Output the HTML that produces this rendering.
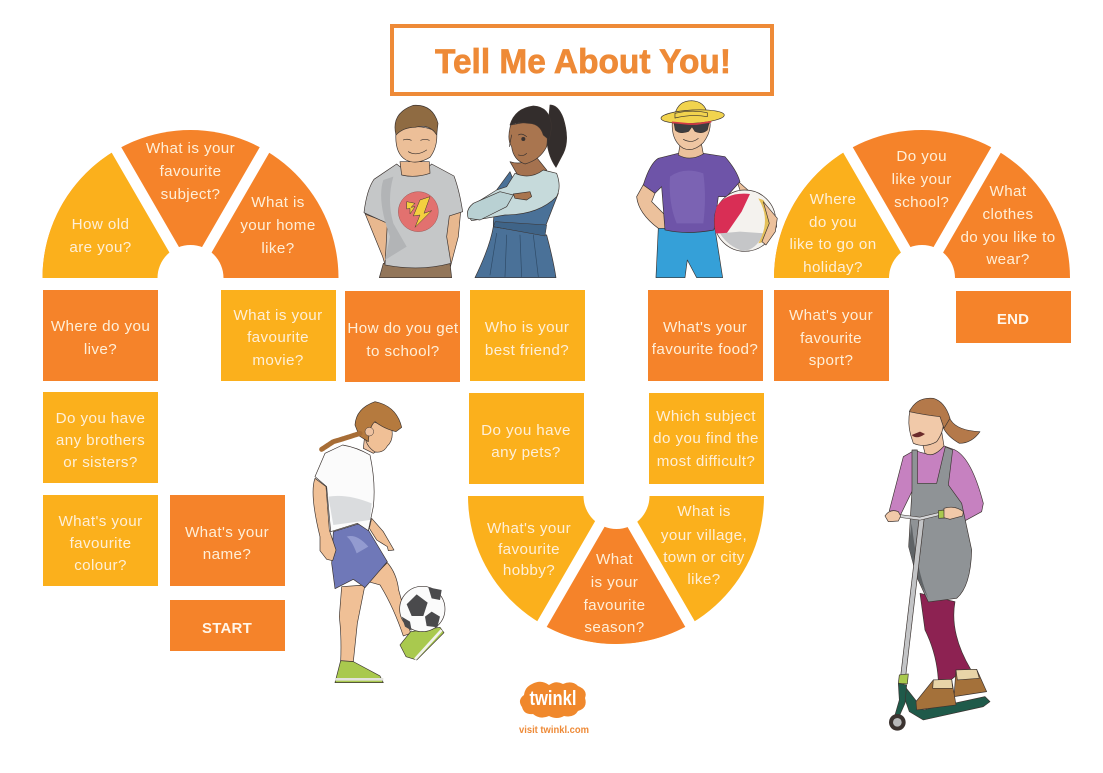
<!DOCTYPE html>
<html><head><meta charset="utf-8"><title>Tell Me About You!</title>
<style>
html,body{margin:0;padding:0;background:#fff;width:1103px;height:773px;overflow:hidden}
svg{display:block}
.t text{font-family:"Liberation Sans",sans-serif;font-size:15.2px;letter-spacing:.4px;fill:#feefd8;text-anchor:middle}
.t text.b{font-weight:bold;fill:#fff6ea;font-size:15px;letter-spacing:.2px}
.o{stroke:#3b3330;stroke-width:2;stroke-linejoin:round;stroke-linecap:round}
.l{fill:none;stroke:#3b3330;stroke-width:2;stroke-linecap:round}
</style></head><body>
<svg width="1103" height="773" viewBox="0 0 1103 773" xmlns="http://www.w3.org/2000/svg">
<rect width="1103" height="773" fill="#fff"/>
<!-- title -->
<rect x="392" y="26" width="380" height="68" fill="#fff" stroke="#ee8a37" stroke-width="4"/>
<text x="583" y="73" font-family="Liberation Sans,sans-serif" font-weight="bold" font-size="34" fill="#ee8a37" stroke="#ee8a37" stroke-width=".7" text-anchor="middle" textLength="296" lengthAdjust="spacingAndGlyphs">Tell Me About You!</text>

<!-- left fan -->
<path d="M42.5,278A148,148 0 0 1 338.5,278Z" fill="#f5832a"/>
<path d="M190.5,278L42.5,278A148,148 0 0 1 116.5,149.8Z" fill="#fbb01c"/>
<path d="M190.5,278L109,137M190.5,278L272,137" stroke="#fff" stroke-width="11"/>
<circle cx="190.5" cy="278" r="33" fill="#fff"/>
<!-- right fan -->
<path d="M774,278A148,148 0 0 1 1070,278Z" fill="#f5832a"/>
<path d="M922,278L774,278A148,148 0 0 1 848,149.8Z" fill="#fbb01c"/>
<path d="M922,278L840.5,137M922,278L1003.5,137" stroke="#fff" stroke-width="11"/>
<circle cx="922" cy="278" r="33" fill="#fff"/>
<!-- bottom fan -->
<path d="M468,496A148,148 0 0 0 764,496Z" fill="#fbb01c"/>
<path d="M616,496L542,624.2A148,148 0 0 0 690,624.2Z" fill="#f5832a"/>
<path d="M616,496L534.5,637M616,496L697.5,637" stroke="#fff" stroke-width="11"/>
<circle cx="616.5" cy="496" r="33" fill="#fff"/>

<!-- boxes -->
<g fill="#f5832a">
<rect x="43" y="290" width="115" height="91"/>
<rect x="170" y="495" width="115" height="91"/>
<rect x="170" y="600" width="115" height="51"/>
<rect x="345" y="291" width="115" height="91"/>
<rect x="648" y="290" width="115" height="91"/>
<rect x="774" y="290" width="115" height="91"/>
<rect x="956" y="291" width="115" height="52"/>
</g>
<g fill="#fbb01c">
<rect x="43" y="392" width="115" height="91"/>
<rect x="43" y="495" width="115" height="91"/>
<rect x="221" y="290" width="115" height="91"/>
<rect x="470" y="290" width="115" height="91"/>
<rect x="469" y="393" width="115" height="91"/>
<rect x="649" y="393" width="115" height="91"/>
</g>

<!-- text -->
<g class="t">
<text x="100.5" y="229">How old</text><text x="100.5" y="252">are you?</text>
<text x="190.5" y="153">What is your</text><text x="190.5" y="176">favourite</text><text x="190.5" y="199">subject?</text>
<text x="278" y="207">What is</text><text x="278" y="230">your home</text><text x="278" y="253">like?</text>
<text x="833" y="204">Where</text><text x="833" y="227">do you</text><text x="833" y="249">like to go on</text><text x="833" y="272">holiday?</text>
<text x="921.7" y="161">Do you</text><text x="921.7" y="184">like your</text><text x="921.7" y="207">school?</text>
<text x="1008" y="196">What</text><text x="1008" y="219">clothes</text><text x="1008" y="242">do you like to</text><text x="1008" y="264">wear?</text>
<text x="100.5" y="331">Where do you</text><text x="100.5" y="354">live?</text>
<text x="100.5" y="423">Do you have</text><text x="100.5" y="445">any brothers</text><text x="100.5" y="467">or sisters?</text>
<text x="100.5" y="526">What's your</text><text x="100.5" y="548">favourite</text><text x="100.5" y="570">colour?</text>
<text x="227" y="537">What's your</text><text x="227" y="559">name?</text>
<text class="b" x="227" y="633">START</text>
<text x="278" y="320">What is your</text><text x="278" y="342">favourite</text><text x="278" y="365">movie?</text>
<text x="403" y="333">How do you get</text><text x="403" y="356">to school?</text>
<text x="527" y="332">Who is your</text><text x="527" y="355">best friend?</text>
<text x="526" y="435">Do you have</text><text x="526" y="457">any pets?</text>
<text x="705" y="332">What's your</text><text x="705" y="354">favourite food?</text>
<text x="706" y="421">Which subject</text><text x="706" y="443">do you find the</text><text x="706" y="466">most difficult?</text>
<text x="831" y="320">What's your</text><text x="831" y="343">favourite</text><text x="831" y="365">sport?</text>
<text class="b" x="1013" y="324">END</text>
<text x="529" y="533">What's your</text><text x="529" y="554">favourite</text><text x="529" y="575">hobby?</text>
<text x="614.5" y="564">What</text><text x="614.5" y="587">is your</text><text x="614.5" y="610">favourite</text><text x="614.5" y="632">season?</text>
<text x="704" y="516">What is</text><text x="704" y="540">your village,</text><text x="704" y="562">town or city</text><text x="704" y="584">like?</text>
</g>

<!-- top characters: coordinates are 3x zoom space -->
<g transform="translate(350,90) scale(.3333)">
<!-- boy 1 -->
<path class="o" d="M52,375L45,370L98,500L110,540L135,535L118,400Z" fill="#e8b88f"/>
<path class="o" d="M296,370L332,365L325,440L300,535L270,530L286,430Z" fill="#e8b88f"/>
<path class="o" d="M88,563L100,520L300,520L305,563Z" fill="#93765a"/>
<path class="o" d="M140,222Q195,270 245,222L312,258Q328,300 338,365L298,378L290,440L303,520Q210,545 105,525L112,400L42,368Q50,300 72,268Z" fill="#c5c7c8"/>
<path d="M100,270Q80,330 120,440L105,510L170,470L130,400Q110,330 130,260Z" fill="#b2b4b6"/>
<path class="o" d="M150,215L155,255Q195,265 240,250L238,215Z" fill="#e8b88f"/>
<path class="o" d="M138,125Q133,190 168,210Q200,226 240,202Q264,170 260,125Q200,95 138,125Z" fill="#ecbf98"/>
<path class="o" d="M138,135Q122,70 190,46Q248,42 264,100L260,135Q240,100 195,112Q160,112 138,135Z" fill="#8f6b42"/>
<path class="l" d="M160,150Q172,145 184,151M212,151Q225,145 238,151M175,185Q200,200 230,180"/>
<circle cx="205" cy="365" r="60" fill="#e2716f" stroke="#9c5553" stroke-width="1.5"/>
<path d="M210,330L240,320L222,370L245,362L195,412L210,375L190,378Z" fill="#f3cf3f" stroke="#3b3330" stroke-width="1.5"/>
<path d="M170,335L195,340L183,352L195,350L180,372L180,355L170,357Z" fill="#f3cf3f" stroke="#3b3330" stroke-width="1.5"/>

<!-- girl -->
<path class="o" d="M600,45Q625,45 640,85Q660,150 640,190L618,232Q595,200 590,150Z" fill="#332d2c"/>
<path class="o" d="M500,250L480,215Q525,230 550,190L590,240L545,290Z" fill="#a5724f"/>
<path class="o" d="M482,105Q470,150 485,170Q490,210 525,222Q570,210 590,170Q600,110 560,90Z" fill="#a9754f"/>
<path class="o" d="M480,105Q495,55 550,48Q600,50 605,110L598,150L580,135Q570,100 535,100Q505,95 480,105Z" fill="#332d2c"/>
<path class="l" d="M505,135Q515,128 530,140M485,135L478,170M505,195Q520,200 530,190"/>
<circle cx="520" cy="147" r="6" fill="#3b3330"/>
<path class="o" d="M375,563Q420,470 430,410L590,435Q610,510 618,563Z" fill="#4a7198"/>
<path class="o" d="M430,395L440,300L480,245L500,295L540,290L590,245L625,310L588,405L585,435L430,410Z" fill="#4a7198"/>
<path class="o" d="M470,290L495,250Q540,270 580,240L620,250Q635,290 620,320Q565,375 465,375L365,392Q345,370 360,350L440,300Z" fill="#c6dadb"/>
<path class="o" d="M355,385Q345,360 370,340L450,305L490,315L470,350L390,390Z" fill="#b9d1d3"/>
<path class="o" d="M490,312L540,305L545,320L530,330L495,325Z" fill="#a9754f"/>
<path d="M430,410L436,395L590,405L585,438Z" fill="#3f6488" stroke="#3b3330" stroke-width="1.5"/>
<path class="l" d="M440,430L420,555M470,435L465,560M510,435L515,560M550,435L565,560" stroke-width="1.3" style="stroke:#2e4a66"/>

<!-- boy 3 -->
<path class="o" d="M1160,270L1205,310L1275,375L1280,410L1250,460L1225,455L1240,400L1180,330Z" fill="#ecc19c"/>
<path class="o" d="M885,275L860,320Q865,370 925,415L960,420L965,385L945,375L905,335L915,310Z" fill="#ecc19c"/>
<path class="o" d="M918,563L925,415L1095,415L1118,563L1040,563L1012,510L1005,563Z" fill="#35a0d8"/>
<path class="o" d="M985,190Q1030,205 1060,190L1125,200Q1160,240 1170,275L1130,320L1105,320L1092,420Q1010,435 945,420L935,290L915,310L880,285Q900,220 925,205Z" fill="#6e54a8"/>
<path d="M960,260Q1000,230 1060,250Q1070,320 1060,400L980,400Q955,340 960,260Z" fill="#8069b8" opacity=".7"/>
<path class="o" d="M990,165L985,195Q1020,215 1060,192L1052,150Z" fill="#ecc19c"/>
<path class="o" d="M968,85Q960,150 1000,175Q1030,188 1060,158Q1088,120 1078,85Z" fill="#efc6a2"/>
<path d="M968,100L1080,100L1076,88L970,84Z" fill="#6b4d2e"/>
<path class="o" d="M975,72Q985,32 1025,32Q1065,34 1072,72Z" fill="#f1d34e"/>
<ellipse cx="1028" cy="80" rx="95" ry="20" transform="rotate(-3 1028 80)" fill="#f1d34e" stroke="#3b3330" stroke-width="2"/>
<path class="o" d="M975,70Q1025,58 1072,68L1072,80Q1025,72 975,84Z" fill="#f1d34e"/>
<path class="o" d="M972,98L1018,102L1040,102L1078,96L1072,120Q1055,134 1035,124L1026,110L1016,124Q990,134 976,120Z" fill="#3d3d40"/>
<path d="M966,97L1018,102L1040,102L1084,95" fill="none" stroke="#d23b45" stroke-width="5"/>
<path class="l" d="M1000,148Q1025,162 1045,145"/>
<circle cx="1185" cy="392" r="92" fill="#f4f2ee" stroke="#3b3330" stroke-width="2"/>
<path d="M1100,350Q1130,305 1200,312L1175,365L1130,430L1097,430Q1088,390 1100,350Z" fill="#d92e55"/>
<path d="M1110,430L1170,425L1240,430Q1220,480 1180,483Q1135,470 1110,430Z" fill="#c5c6c8"/>
<path d="M1225,325Q1265,390 1225,460L1245,455Q1280,390 1240,330Z" fill="#e4c05a"/>
<path class="o" d="M1240,335L1282,385L1276,425L1248,465L1236,455L1258,400Z" fill="#ecc19c"/>
</g>

<!-- footballer -->
<g transform="translate(300,390) scale(.3333)">
<path class="o" d="M215,385L250,425L282,480L265,482L262,470L230,450L208,415Z" fill="#f0c096"/>
<path class="o" d="M125,590L195,585L172,700L160,815L122,815Q125,740 118,680Z" fill="#f0c096"/>
<path class="o" d="M205,575L262,518Q290,550 296,600L332,730L310,738Q280,650 240,585Z" fill="#f0c096"/>
<path class="o" d="M100,425L175,402L205,420L262,515L195,593L160,568L105,596L95,520Z" fill="#6f78b8"/>
<path d="M140,440Q170,430 205,470L170,490Q155,450 140,440Z" fill="#939bd0"/>
<path class="o" d="M45,265Q28,310 60,440L60,482L80,508L98,512L108,480L88,420L78,290Z" fill="#f0c096"/>
<path class="o" d="M128,165Q170,172 210,195Q228,280 220,350L205,422L172,400L92,425L80,290L45,260L75,190Z" fill="#fbfbfb"/>
<path d="M85,320Q140,310 215,340L210,390L100,405Z" fill="#dadcde"/>
<path class="o" d="M195,130L190,175L220,190L245,175L240,140Z" fill="#eec2a0"/>
<path class="o" d="M205,90L275,115Q282,150 262,168Q250,190 225,186Q192,165 195,125Z" fill="#f0c096"/>
<path class="o" d="M165,105Q168,55 225,35Q290,48 305,112L288,125Q250,115 225,95Q208,108 205,155L178,138Z" fill="#b57a3e"/>
<path d="M180,130Q135,145 100,155L65,178" fill="none" stroke="#a76d36" stroke-width="15" stroke-linecap="round" stroke-dasharray="14 3"/>
<circle cx="208" cy="125" r="13" fill="#eec2a0" stroke="#3b3330" stroke-width="1.5"/>
<path class="o" d="M122,812L160,815L240,858L250,878L105,878Z" fill="#a9c94e"/>
<path d="M105,868L250,868" stroke="#e2e2dc" stroke-width="8"/>
<path class="o" d="M332,725L420,712L432,728L350,810L318,800L300,765Z" fill="#a9c94e"/>
<path d="M425,720L345,808" stroke="#f2f2ec" stroke-width="8"/>
<circle cx="367" cy="657" r="68" fill="#fbfbfb" stroke="#3b3330" stroke-width="2"/>
<path d="M345,615L378,640L365,680L330,680L315,645Z" transform="translate(5,-2)" fill="#4a4a4c"/>
<path d="M395,665L420,680L412,712L380,708L375,680Z" fill="#4a4a4c"/>
<path d="M385,592L425,600L420,630L395,625Z" fill="#4a4a4c"/>
<path d="M305,680L330,695L335,722L315,710Z" fill="#4a4a4c"/>
</g>

<!-- scooter girl -->
<g transform="translate(870,390) scale(.3333)">
<path class="o" d="M225,60L242,90Q262,122 330,125Q305,160 268,160Q232,140 218,110Z" fill="#b4794a"/>
<path class="o" d="M150,610L255,635Q238,730 302,838L255,860L240,872L205,870Q200,790 165,720Z" fill="#8d2252"/>
<path class="o" d="M100,200L135,180L128,300L90,378L58,362Z" fill="#c681c0"/>
<path class="o" d="M135,180Q180,205 222,168L255,180Q305,205 340,340L335,365L280,395L240,340L130,300Z" fill="#c681c0"/>
<path class="o" d="M126,180L142,180L142,280L200,280L226,170L248,180L235,285L275,340L305,480Q302,590 260,625L175,636L140,560L116,470L126,300Z" fill="#8f9396"/>
<path d="M125,400Q140,540 175,625L140,560L116,470Z" fill="#5f6366"/>
<path class="o" d="M155,150L165,190Q190,205 222,168L215,125Z" fill="#efc3a2"/>
<path class="o" d="M120,60Q112,100 122,135L130,160Q165,175 200,155Q222,125 220,95L212,70Z" fill="#f1c9a9"/>
<path class="o" d="M118,65Q140,20 190,25Q225,35 240,85L222,115L210,80Q165,75 118,65Z" fill="#b4794a"/>
<path d="M125,135Q140,150 165,132L150,125Z" fill="#6b2b2b"/>
<path class="o" d="M105,890L160,960L345,920L360,935L340,950L160,990L118,965L95,900Z" fill="#1f5a4a"/>
<path class="o" d="M258,840L320,838L350,905L252,920Z" fill="#a4713a"/>
<path class="o" d="M258,840L320,838L328,865L262,870Z" fill="#e8d4a8"/>
<path class="o" d="M190,870L245,868L258,945L140,960L138,935Z" fill="#a4713a"/>
<path class="o" d="M190,870L245,868L248,895L188,895Z" fill="#e8d4a8"/>
<path d="M155,385L100,855" stroke="#3b3330" stroke-width="17"/>
<path d="M155,385L100,855" stroke="#c3c4c6" stroke-width="13"/>
<path d="M90,378L150,386L215,370" fill="none" stroke="#3b3330" stroke-width="10"/>
<path d="M90,378L150,386L215,370" fill="none" stroke="#d5d6d8" stroke-width="7"/>
<path class="o" d="M88,855L115,852L112,882L85,880Z" fill="#a9c94e"/>
<path class="o" d="M85,880L110,885L105,940L85,985L75,975L88,930Z" fill="#1f5a4a"/>
<circle cx="82" cy="997" r="25" fill="#3b3330"/><circle cx="82" cy="997" r="13" fill="#b8b9ba"/>
<path class="o" d="M205,362L222,360L224,384L206,385Z" fill="#a9c94e"/>
<path class="o" d="M45,378Q60,355 85,365L92,378L85,393L55,395Z" fill="#f1c9a9"/>
<path class="o" d="M222,355Q255,345 280,365L278,378L240,388L222,383Z" fill="#f1c9a9"/>
</g>

<!-- logo -->
<path d="M532,684Q541,679 549,685Q556,680 563,684Q572,680 578,686Q588,690 585,698Q588,708 578,711Q574,718 564,716Q557,720 549,716Q540,720 533,714Q524,715 522,707Q517,700 524,695Q525,687 532,684Z" fill="#f0882c"/>
<text x="553" y="705" font-family="Liberation Sans,sans-serif" font-weight="bold" font-size="20" fill="#fff" text-anchor="middle" textLength="47" lengthAdjust="spacingAndGlyphs">twinkl</text>
<text x="554" y="733" font-family="Liberation Sans,sans-serif" font-weight="bold" font-size="10" fill="#ee8a37" text-anchor="middle" textLength="70" lengthAdjust="spacingAndGlyphs">visit twinkl.com</text>
</svg>
</body></html>
